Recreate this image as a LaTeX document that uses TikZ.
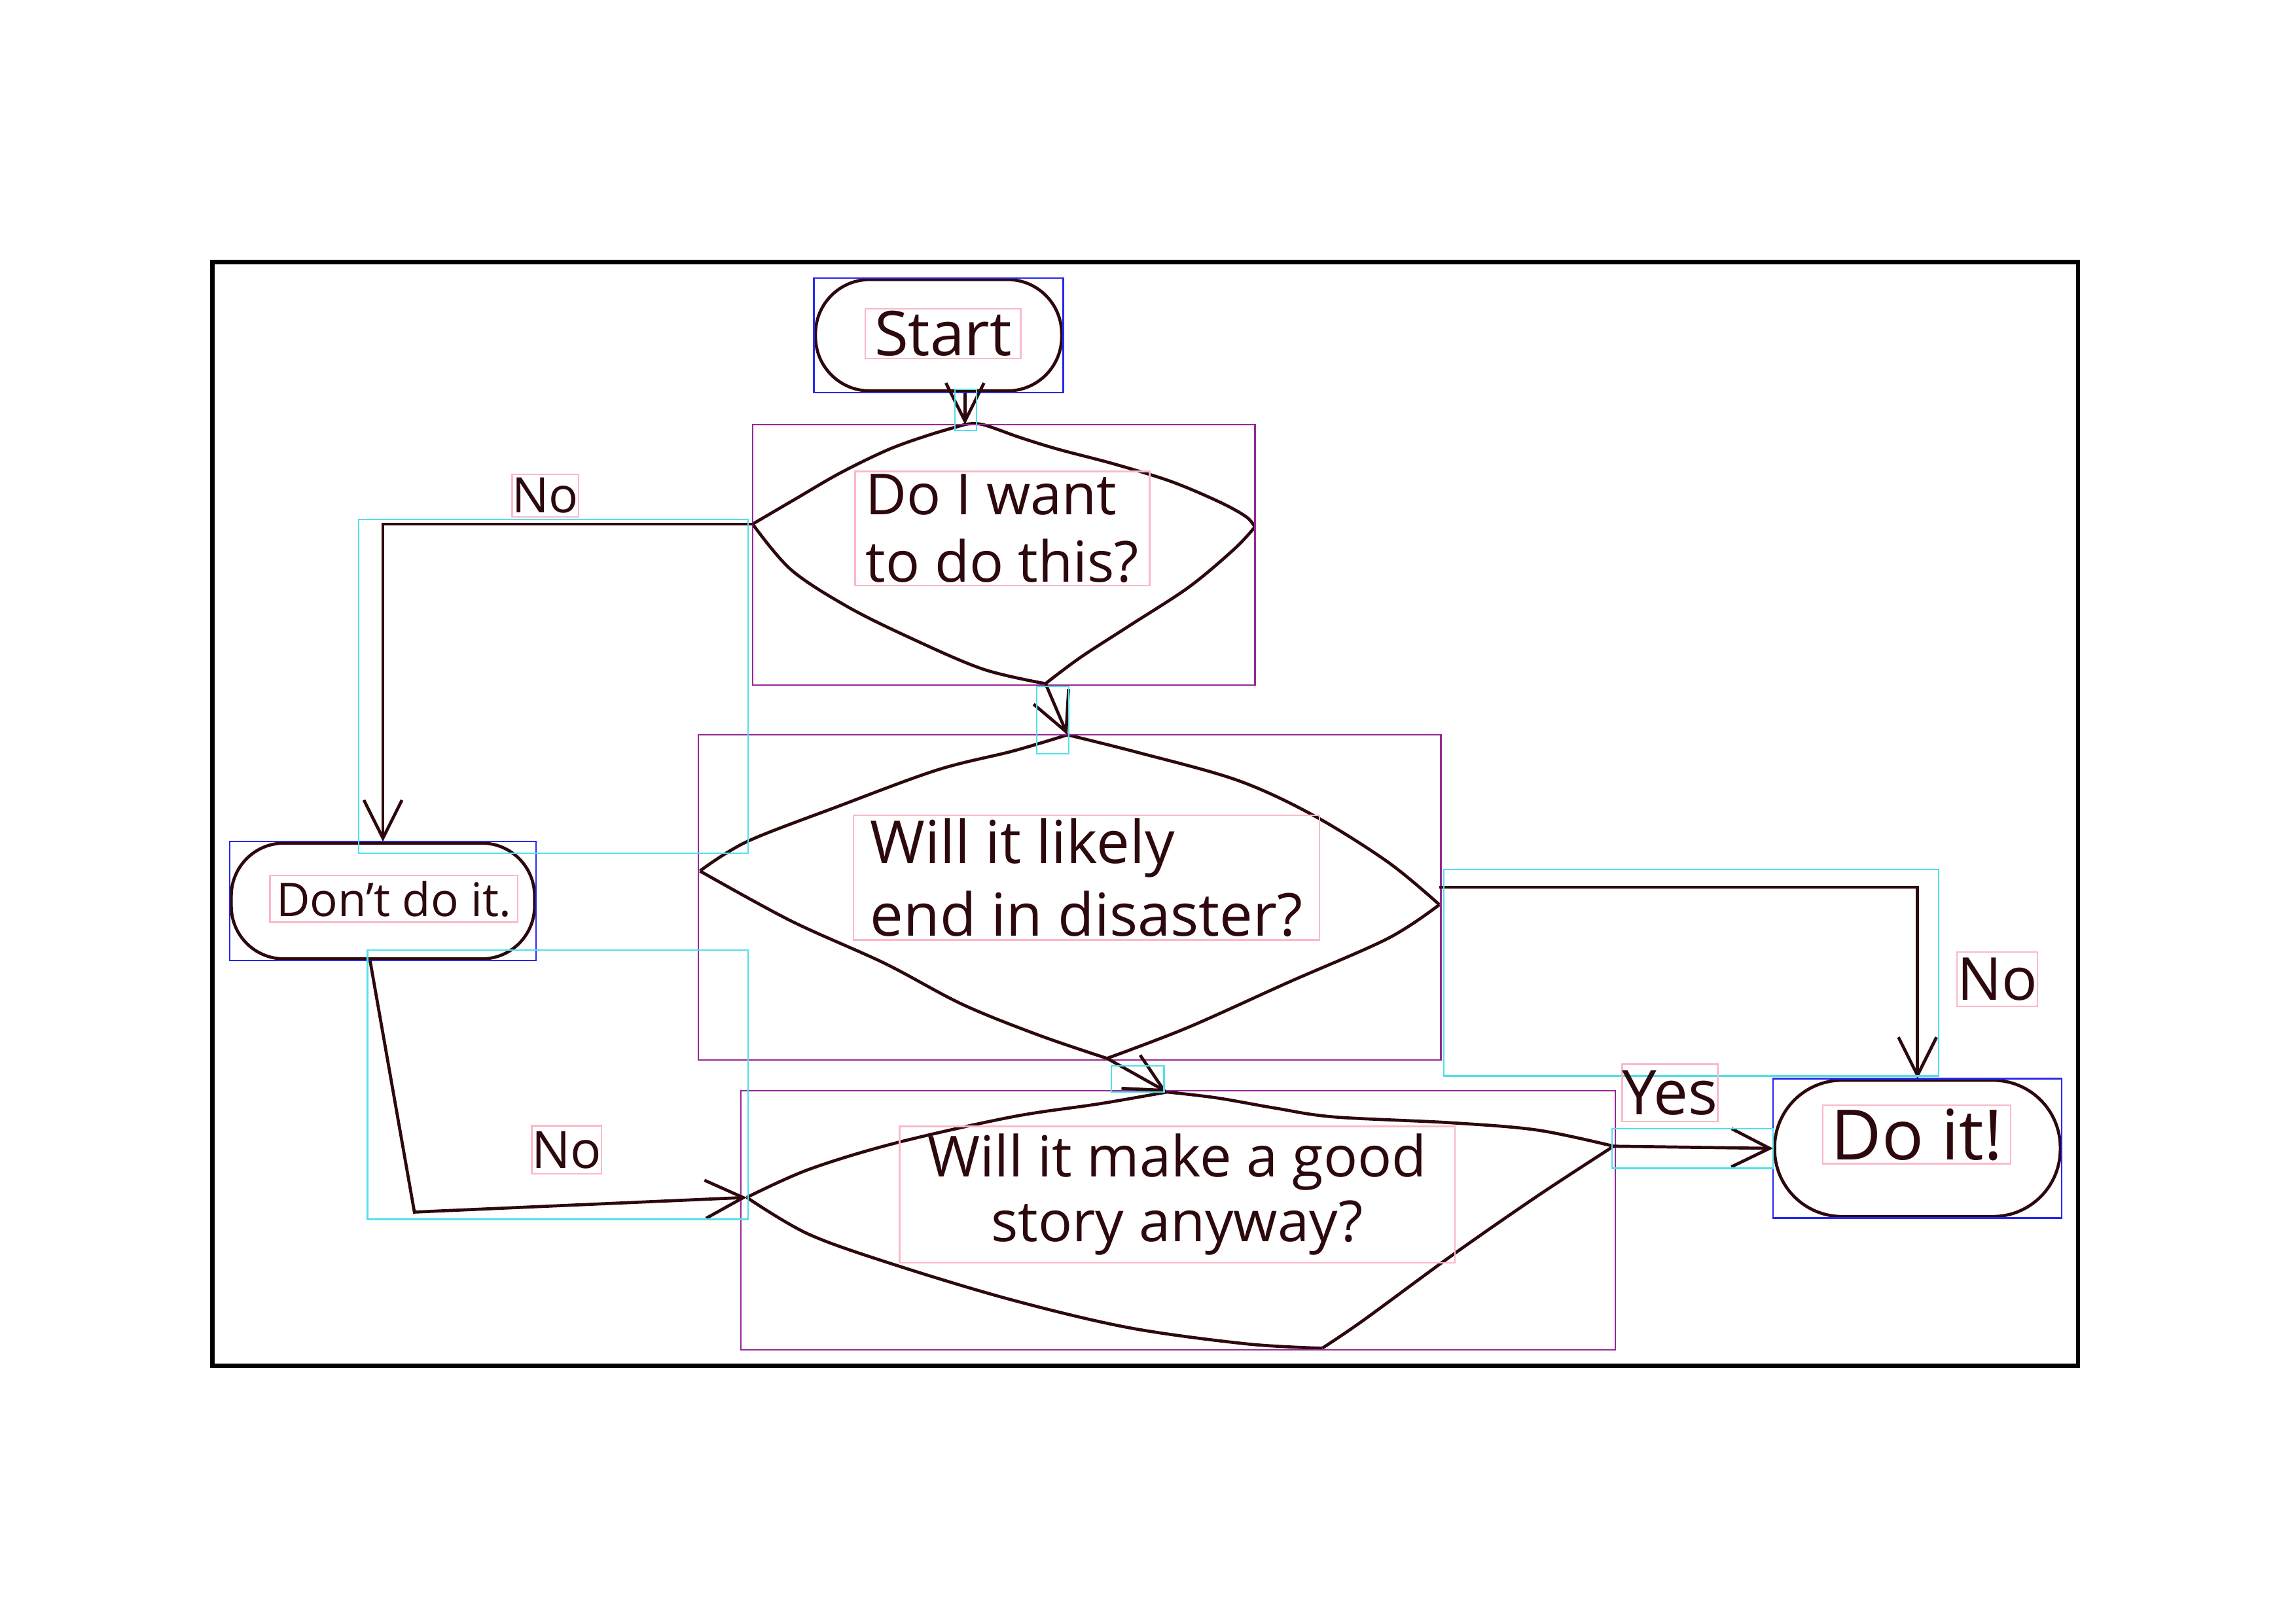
\documentclass[tikz,border=0pt]{standalone}
\usepackage{fontspec}
\setmainfont{Open Sans}
\usepackage{xcolor}
\usetikzlibrary{arrows.meta, positioning}

\definecolor{ink}{RGB}{45,8,12}
\definecolor{boxblue}{RGB}{40,40,235}
\definecolor{boxviolet}{RGB}{150,40,150}
\definecolor{boxcyan}{RGB}{80,225,235}
\definecolor{boxpink}{RGB}{250,185,200}

\begin{document}
\begin{tikzpicture}[x=0.01cm, y=-0.01cm, line width=0.6pt, >={Straight Barb[length=2.6mm, width=2.6mm]},
    term/.style={draw=ink, rounded corners=#1, inner sep=0pt},
    lbl/.style={draw=boxpink, line width=0.3pt, inner sep=0pt, text=ink},
    link/.style={->, draw=ink},
    side/.style={ink, smooth, tension=0.55},
    anno/.style={line width=0.3pt}]
        \useasboundingbox (0,0) rectangle (1568,1109);
        \draw [black, line width=0.8pt] (145,179) rectangle (1419,933);

        % terminals
        \node [term=0.37cm, minimum width=1.68cm, minimum height=0.76cm] (start) at (641,229) {};
        \node [term=0.36cm, minimum width=2.07cm, minimum height=0.79cm] (dont) at (261.5,615.5) {};
        \node [term=0.46cm, minimum width=1.95cm, minimum height=0.93cm] (doit) at (1309.5,784.5) {};
        \draw [boxblue, anno] (start.south west) rectangle (start.north east);
        \draw [boxblue, anno] (dont.south west) rectangle (dont.north east);
        \draw [boxblue, anno] (doit.south west) rectangle (doit.north east);

        % decisions, drawn side by side
        \coordinate (q1t) at (659,290);
        \coordinate (q1r) at (857,360);
        \coordinate (q1b) at (714,467);
        \coordinate (q1l) at (514,358);
        \coordinate (q2t) at (729,502);
        \coordinate (q2r) at (983,618);
        \coordinate (q2b) at (756,723);
        \coordinate (q2l) at (478,595);
        \coordinate (q3t) at (797,746);
        \coordinate (q3r) at (1102,783);
        \coordinate (q3b) at (903,921);
        \coordinate (q3l) at (510,818);

        \draw [side] plot coordinates {(q1l) (543,341) (574,323) (607,307) (635,297) (q1t)};
        \draw [side] plot coordinates {(q1t) (671,290) (697,299) (723,307) (761,317) (800,329) (833,343) (851,353) (q1r)};
        \draw [side] plot coordinates {(q1r) (843,375) (812,401) (772,427) (738,449) (q1b)};
        \draw [side] plot coordinates {(q1b) (671,457) (620,435) (578,414) (540,389) (q1l)};

        \draw [side] plot coordinates {(q2l) (510,575) (572,551) (640,526) (692,513) (q2t)};
        \draw [side] plot coordinates {(q2t) (777,514) (845,533) (897,557) (948,589) (q2r)};
        \draw [side] plot coordinates {(q2r) (948,641) (880,671) (811,702) (q2b)};
        \draw [side] plot coordinates {(q2b) (709,707) (657,686) (604,658) (540,629) (q2l)};

        \draw [side] plot coordinates {(q3l) (552,799) (611,781) (691,763) (751,754) (q3t)};
        \draw [side] plot coordinates {(q3t) (831,750) (871,757) (911,763) (991,767) (1050,772) (q3r)};
        \draw [side] plot coordinates {(q3r) (1050,817) (991,858) (931,902) (q3b)};
        \draw [side] plot coordinates {(q3b) (851,918) (771,907) (691,888) (611,864) (552,843) (q3l)};

        \draw [boxviolet, anno] (514,290) rectangle (857,468);
        \draw [boxviolet, anno] (477,502) rectangle (984,724);
        \draw [boxviolet, anno] (506,745) rectangle (1103,922);

        % texts
        \node [lbl, minimum width=1.06cm, minimum height=0.34cm, font=\fontsize{12}{13}\selectfont] (startText) at (644,228) {Start};
        \node [lbl, minimum width=2.01cm, minimum height=0.78cm, align=left, font=\fontsize{11}{13}\selectfont] (q1Text) at (684.5,361) {Do I want\\to do this?};
        \node [lbl, minimum width=3.18cm, minimum height=0.85cm, align=left, font=\fontsize{11.5}{14}\selectfont] (q2Text) at (742,599.5) {Will it likely\\end in disaster?};
        \node [lbl, minimum width=3.79cm, minimum height=0.93cm, align=center, font=\fontsize{11}{12.5}\selectfont] (q3Text) at (804,816) {Will it make a good\\story anyway?};
        \node [lbl, minimum width=1.69cm, minimum height=0.32cm, font=\fontsize{9}{10}\selectfont] (dontText) at (269,614) {Don't do it.};
        \node [lbl, minimum width=1.28cm, minimum height=0.40cm, font=\fontsize{13.5}{14}\selectfont] (doitText) at (1309,775) {Do it!};

        % connectors
        \coordinate (dontTurn) at (283,828);
        \draw [link] (q1t |- start.south) -- (q1t);
        \draw [link] (q1b) -- (q2t);
        \draw [link] (q2b) -- (q3t);
        \draw [link] (q1l) -| (dont.north);
        \draw [link] ([xshift=-2.5pt]dont.south) -- (dontTurn) -- (q3l);
        \draw [link] ([yshift=3.4pt]q2r) -| (doit.north);
        \draw [link] (q3r) -- (doit.west);
        \draw [boxcyan, anno] (652,266) rectangle (667,294);
        \draw [boxcyan, anno] (708,469) rectangle (730,515);
        \draw [boxcyan, anno] (759,728) rectangle (795,746);
        \draw [boxcyan, anno] (245,355) rectangle (511,583);
        \draw [boxcyan, anno] (251,649) rectangle (511,833);
        \draw [boxcyan, anno] (986,594) rectangle (1324,735);
        \draw [boxcyan, anno] (1101,771) rectangle (1211,798);

        % branch labels
        \node [lbl, minimum width=0.41cm, minimum height=0.29cm, font=\fontsize{9.5}{10}\selectfont] (noLeft) at (372.5,338.5) {No};
        \node [lbl, minimum width=0.44cm, minimum height=0.33cm, font=\fontsize{10}{11}\selectfont] (noLow) at (387,785.5) {No};
        \node [lbl, minimum width=0.52cm, minimum height=0.37cm, font=\fontsize{11.5}{12}\selectfont] (noRight) at (1364,669) {No};
        \node [lbl, minimum width=0.65cm, minimum height=0.39cm, font=\fontsize{12}{13}\selectfont] (yes) at (1140.5,746.5) {Yes};
    \end{tikzpicture}
\end{document}
